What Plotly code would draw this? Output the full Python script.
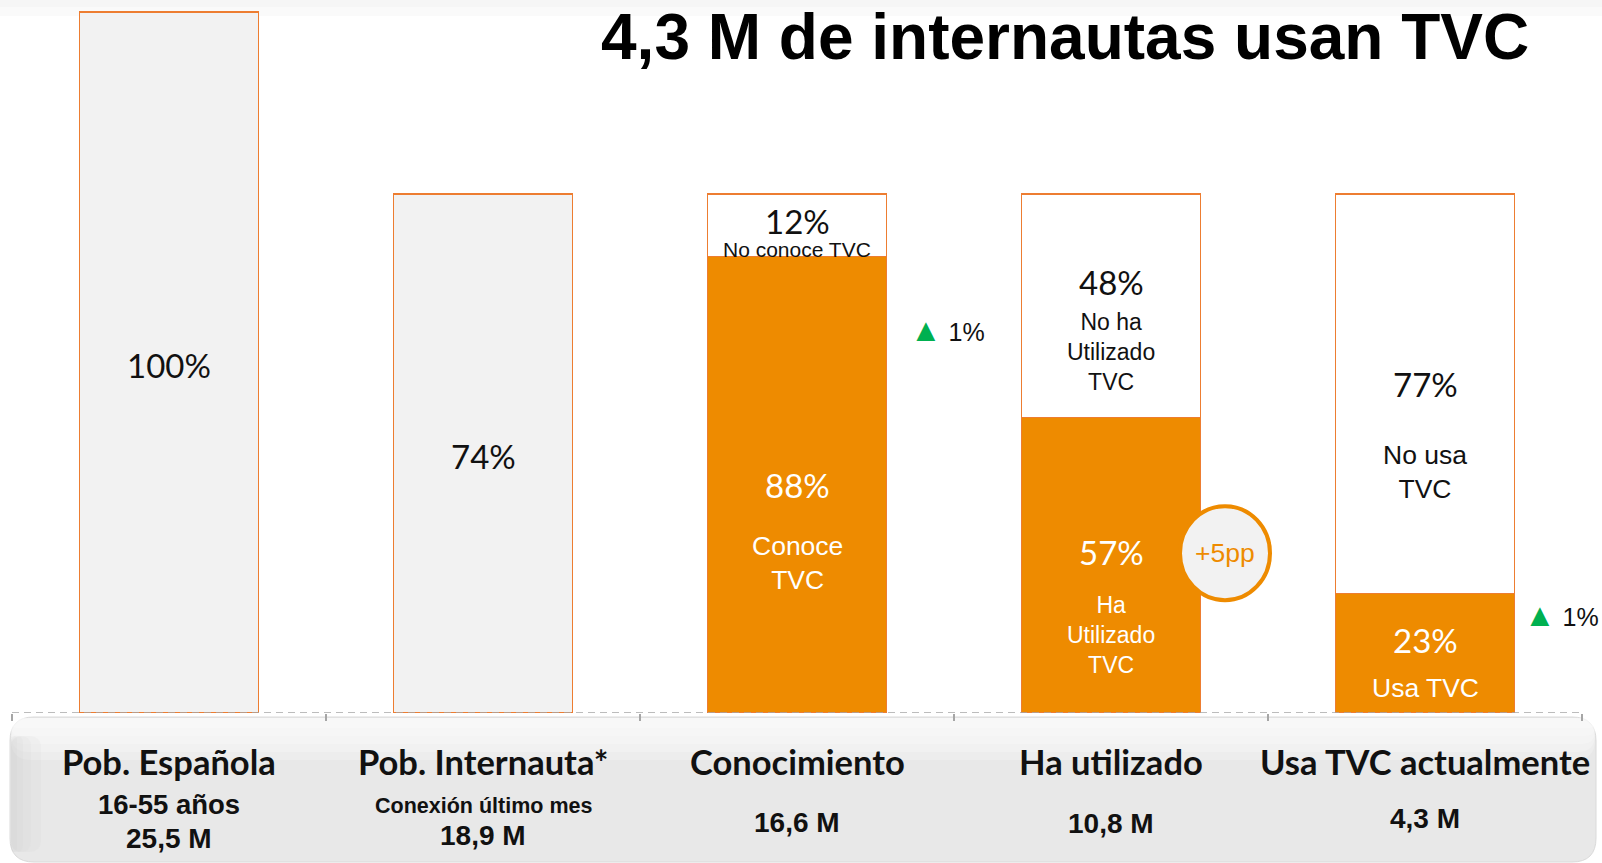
import plotly.graph_objects as go

# ---- data -------------------------------------------------------------
categories = ["Pob. Española", "Pob. Internauta*", "Conocimiento", "Ha utilizado", "Usa TVC actualmente"]
sub_notes = ["16-55 años", "Conexión último mes", "", "", ""]
audience = ["25,5 M", "18,9 M", "16,6 M", "10,8 M", "4,3 M"]

population_pct = [100, 74]      # bars 1-2, share of Spanish population 16-55
internet_pct = 74               # base for the TVC funnel bars
funnel_yes_pct = [88, 57, 23]
funnel_no_pct = [12, 48, 77]
funnel_yes_text = ["Conoce<br>TVC", "Ha<br>Utilizado<br>TVC", "Usa TVC"]
funnel_no_text = ["No conoce TVC", "No ha<br>Utilizado<br>TVC", "No usa<br>TVC"]
delta_text = ["1%", "1%"]
delta_bar = [2, 4]
uplift_text = "+5pp"
uplift_bar = 3
title_text = "4,3 M de internautas usan TVC"

# ---- style -------------------------------------------------------------
ORANGE = "#EE8B00"
ORANGE_LINE = "#ED7D31"
GREY_FILL = "#F2F2F2"
GREEN = "#00B050"
NUM_FONT = "Lato, 'Open Sans', sans-serif"
ARIAL = "'Liberation Sans', Arial, sans-serif"

W, H = 1602, 863
PL, PR, PT, PB = 12, 1582, 2, 713   # plot area in pixels


def px(x):
    return (x - PL) / (PR - PL)


def py(y):
    return (PB - y) / (PB - PT)


pop_x = list(range(len(population_pct)))
funnel_x = [len(population_pct) + i for i in range(len(funnel_yes_pct))]
yes_h = [internet_pct * p / 100 for p in funnel_yes_pct]
no_h = [internet_pct - h for h in yes_h]

bar_w = 0.57
bar_line = dict(color=ORANGE_LINE, width=1.6)

traces = [
    go.Bar(x=pop_x, y=population_pct, width=bar_w,
           marker=dict(color=GREY_FILL, line=bar_line), hoverinfo="skip"),
    go.Bar(x=funnel_x, y=yes_h, width=bar_w,
           marker=dict(color=ORANGE, line=bar_line), hoverinfo="skip"),
    go.Bar(x=funnel_x, y=no_h, width=bar_w,
           marker=dict(color="white", line=bar_line), hoverinfo="skip"),
]

annotations = []


def note(text, x, y, size, color="black", family=ARIAL, xref="x", yref="y", xshift=0, yshift=0):
    annotations.append(dict(text=text, x=x, y=y, xref=xref, yref=yref, showarrow=False,
                            xanchor="center", yanchor="middle", xshift=xshift, yshift=yshift,
                            font=dict(size=size, color=color, family=family)))


# percentages on the grey bars
for x, v in zip(pop_x, population_pct):
    note(f"{v}%", x, v / 2, 33, "#111", NUM_FONT, yshift=-2)

# funnel bars
yes_pct_shift = [0, 13, 13]
yes_txt_shift = [-78, -70, -35]
yes_txt_size = [26.5, 23, 26.5]
no_pct_shift = [4, 24, 10]
no_txt_shift = [-24, -46, -78]
no_txt_size = [21, 23, 26.5]
for i, x in enumerate(funnel_x):
    mid_yes = yes_h[i] / 2
    mid_no = yes_h[i] + no_h[i] / 2
    note(f"{funnel_yes_pct[i]}%", x, mid_yes, 33, "white", NUM_FONT, yshift=yes_pct_shift[i])
    note(funnel_yes_text[i], x, mid_yes, yes_txt_size[i], "white", yshift=yes_txt_shift[i])
    note(f"{funnel_no_pct[i]}%", x, mid_no, 33, "#111", NUM_FONT, yshift=no_pct_shift[i])
    note(funnel_no_text[i], x, mid_no, no_txt_size[i], "#111", yshift=no_txt_shift[i])

# change vs previous wave
delta_xshift = [150, 136]
delta_y = [54.6, 14.0]
for i, b in enumerate(delta_bar):
    note(f"<span style='color:{GREEN};font-size:32px'>▲</span> {delta_text[i]}", b, delta_y[i], 25,
         "#111", xshift=delta_xshift[i])

# uplift bubble
bubble_dx, bubble_y = 114, 22.8
note(uplift_text, uplift_bar, bubble_y, 26.5, ORANGE, xshift=bubble_dx)

# category captions in the bottom panel
cat_y = [762] * 5
note_y = [804, 806, 0, 0, 0]
note_size = [27.5, 21.5, 0, 0, 0]
aud_y = [838, 835, 822, 823.5, 818]
for i, c in enumerate(categories):
    note(f"<b>{c}</b>", i, py(cat_y[i]), 34.5, "#111", NUM_FONT, yref="paper")
    if sub_notes[i]:
        note(f"<b>{sub_notes[i]}</b>", i, py(note_y[i]), note_size[i], "#111", yref="paper")
    note(f"<b>{audience[i]}</b>", i, py(aud_y[i]), 28, "#111", yref="paper")

# title
note(f"<b>{title_text}</b>", px(1065), py(37), 64, "black", ARIAL, xref="paper", yref="paper")


def rounded(x0, y0, x1, y1, r):
    return (f"M {px(x0 + r)},{py(y0)} L {px(x1 - r)},{py(y0)} "
            f"Q {px(x1)},{py(y0)} {px(x1)},{py(y0 + r)} L {px(x1)},{py(y1 - r)} "
            f"Q {px(x1)},{py(y1)} {px(x1 - r)},{py(y1)} L {px(x0 + r)},{py(y1)} "
            f"Q {px(x0)},{py(y1)} {px(x0)},{py(y1 - r)} L {px(x0)},{py(y0 + r)} "
            f"Q {px(x0)},{py(y0)} {px(x0 + r)},{py(y0)} Z")


shapes = [
    # faint grey fade at the very top
    dict(type="rect", xref="paper", yref="paper", x0=px(0), x1=px(W), y0=py(0), y1=py(7),
         fillcolor="#F6F6F6", line_width=0, layer="below"),
    dict(type="rect", xref="paper", yref="paper", x0=px(0), x1=px(W), y0=py(7), y1=py(16),
         fillcolor="#FAFAFA", line_width=0, layer="below"),
    # bottom caption panel
    dict(type="path", xref="paper", yref="paper", path=rounded(10, 717, 1596, 862, 24),
         fillcolor="#E8E8E8", line=dict(color="#DADADA", width=1), layer="below"),
]
# soft highlight along the top of the panel
for h in (10, 18, 26, 34, 42):
    shapes.append(dict(type="path", xref="paper", yref="paper",
                       path=rounded(11, 718, 1595, 718 + h, min(20, h // 2)),
                       fillcolor="white", opacity=0.22, line_width=0, layer="below"))
# shade along the left edge of the panel
for w in (6, 12, 20, 30):
    shapes.append(dict(type="path", xref="paper", yref="paper",
                       path=rounded(11, 736, 11 + w, 852, min(12, w // 2)),
                       fillcolor="#BBBBBB", opacity=0.08, line_width=0, layer="below"))
shapes += [
    # dashed baseline
    dict(type="line", xref="paper", yref="y", x0=0, x1=1, y0=0, y1=0,
         line=dict(color="#A6A6A6", width=1.5, dash="7px,5px"), layer="above"),
    # uplift bubble
    dict(type="circle", xref="x", yref="y", xsizemode="pixel", ysizemode="pixel",
         xanchor=uplift_bar, x0=bubble_dx - 45, x1=bubble_dx + 45,
         yanchor=bubble_y, y0=-47, y1=47,
         fillcolor=GREY_FILL, line=dict(color=ORANGE, width=4), layer="above"),
]

layout = go.Layout(
    width=W,
    height=H,
    showlegend=False,
    barmode="stack",
    plot_bgcolor="white",
    paper_bgcolor="white",
    margin=dict(l=PL, r=W - PR, t=PT, b=H - PB, pad=0),
    xaxis=dict(range=[-0.5, len(categories) - 0.5], showgrid=False, zeroline=False,
               showline=False, showticklabels=False, tickmode="array",
               tickvals=[i - 0.5 for i in range(len(categories) + 1)],
               ticks="outside", ticklen=7, tickwidth=1.5, tickcolor="#A6A6A6",
               fixedrange=True),
    yaxis=dict(range=[0, 101.43], visible=False, fixedrange=True),
    annotations=annotations,
    shapes=shapes,
)

fig = go.Figure(data=traces, layout=layout)
fig.write_html("out.html", config=dict(displayModeBar=False),
               post_script="document.body.style.margin='0';")
